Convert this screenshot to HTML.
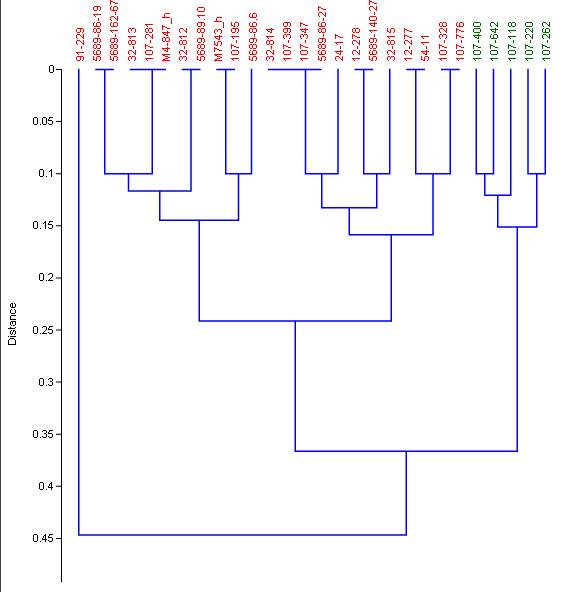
<!DOCTYPE html><html><head><meta charset="utf-8"><style>html,body{margin:0;padding:0;background:#fff;overflow:hidden;}svg{display:block;}</style></head><body>
<svg width="563" height="592" viewBox="0 0 563 592">
<rect x="0" y="0" width="563" height="592" fill="#fff"/>
<rect x="0" y="0" width="1" height="592" fill="#434339"/>
<path d="M61 69h1v513h-1zM50 65h3v1h-3zM49 66h1v1h-1zM53 66h1v1h-1zM49 67h1v1h-1zM53 67h1v1h-1zM49 68h1v1h-1zM53 68h1v1h-1zM49 69h1v1h-1zM53 69h1v1h-1zM49 70h1v1h-1zM53 70h1v1h-1zM49 71h1v1h-1zM53 71h1v1h-1zM50 72h3v1h-3zM34 117h3v1h-3zM43 117h3v1h-3zM49 117h4v1h-4zM33 118h1v1h-1zM37 118h1v1h-1zM42 118h1v1h-1zM46 118h1v1h-1zM49 118h1v1h-1zM33 119h1v1h-1zM37 119h1v1h-1zM42 119h1v1h-1zM46 119h1v1h-1zM48 119h1v1h-1zM33 120h1v1h-1zM37 120h1v1h-1zM42 120h1v1h-1zM46 120h1v1h-1zM48 120h4v1h-4zM33 121h1v1h-1zM37 121h1v1h-1zM42 121h1v1h-1zM46 121h1v1h-1zM52 121h1v1h-1zM33 122h1v1h-1zM37 122h1v1h-1zM42 122h1v1h-1zM46 122h1v1h-1zM52 122h1v1h-1zM33 123h1v1h-1zM37 123h1v1h-1zM42 123h1v1h-1zM46 123h1v1h-1zM48 123h1v1h-1zM52 123h1v1h-1zM34 124h3v1h-3zM40 124h1v1h-1zM43 124h3v1h-3zM49 124h3v1h-3zM40 169h3v1h-3zM51 169h1v1h-1zM39 170h1v1h-1zM43 170h1v1h-1zM50 170h2v1h-2zM39 171h1v1h-1zM43 171h1v1h-1zM49 171h1v1h-1zM51 171h1v1h-1zM39 172h1v1h-1zM43 172h1v1h-1zM51 172h1v1h-1zM39 173h1v1h-1zM43 173h1v1h-1zM51 173h1v1h-1zM39 174h1v1h-1zM43 174h1v1h-1zM51 174h1v1h-1zM39 175h1v1h-1zM43 175h1v1h-1zM51 175h1v1h-1zM40 176h3v1h-3zM46 176h1v1h-1zM51 176h1v1h-1zM34 221h3v1h-3zM45 221h1v1h-1zM49 221h4v1h-4zM33 222h1v1h-1zM37 222h1v1h-1zM44 222h2v1h-2zM49 222h1v1h-1zM33 223h1v1h-1zM37 223h1v1h-1zM43 223h1v1h-1zM45 223h1v1h-1zM48 223h1v1h-1zM33 224h1v1h-1zM37 224h1v1h-1zM45 224h1v1h-1zM48 224h4v1h-4zM33 225h1v1h-1zM37 225h1v1h-1zM45 225h1v1h-1zM52 225h1v1h-1zM33 226h1v1h-1zM37 226h1v1h-1zM45 226h1v1h-1zM52 226h1v1h-1zM33 227h1v1h-1zM37 227h1v1h-1zM45 227h1v1h-1zM48 227h1v1h-1zM52 227h1v1h-1zM34 228h3v1h-3zM40 228h1v1h-1zM45 228h1v1h-1zM49 228h3v1h-3zM40 273h3v1h-3zM49 273h3v1h-3zM39 274h1v1h-1zM43 274h1v1h-1zM48 274h1v1h-1zM52 274h1v1h-1zM39 275h1v1h-1zM43 275h1v1h-1zM52 275h1v1h-1zM39 276h1v1h-1zM43 276h1v1h-1zM52 276h1v1h-1zM39 277h1v1h-1zM43 277h1v1h-1zM51 277h1v1h-1zM39 278h1v1h-1zM43 278h1v1h-1zM50 278h1v1h-1zM39 279h1v1h-1zM43 279h1v1h-1zM49 279h1v1h-1zM40 280h3v1h-3zM46 280h1v1h-1zM48 280h5v1h-5zM11 303h2v1h-2zM14 303h1v1h-1zM10 304h1v1h-1zM12 304h1v1h-1zM15 304h1v1h-1zM10 305h1v1h-1zM12 305h1v1h-1zM15 305h1v1h-1zM10 306h1v1h-1zM12 306h1v1h-1zM15 306h1v1h-1zM11 307h4v1h-4zM11 309h1v1h-1zM14 309h1v1h-1zM10 310h1v1h-1zM15 310h1v1h-1zM10 311h1v1h-1zM15 311h1v1h-1zM10 312h1v1h-1zM15 312h1v1h-1zM11 313h4v1h-4zM11 315h5v1h-5zM10 316h1v1h-1zM10 317h1v1h-1zM10 318h1v1h-1zM10 319h6v1h-6zM11 321h5v1h-5zM10 322h1v1h-1zM12 322h1v1h-1zM15 322h1v1h-1zM10 323h1v1h-1zM12 323h1v1h-1zM15 323h1v1h-1zM10 324h1v1h-1zM15 324h1v1h-1zM11 325h1v1h-1zM13 325h2v1h-2zM34 326h3v1h-3zM43 326h3v1h-3zM49 326h4v1h-4zM10 327h1v1h-1zM15 327h1v1h-1zM33 327h1v1h-1zM37 327h1v1h-1zM42 327h1v1h-1zM46 327h1v1h-1zM49 327h1v1h-1zM8 328h7v1h-7zM33 328h1v1h-1zM37 328h1v1h-1zM46 328h1v1h-1zM48 328h1v1h-1zM33 329h1v1h-1zM37 329h1v1h-1zM46 329h1v1h-1zM48 329h4v1h-4zM11 330h1v1h-1zM13 330h2v1h-2zM33 330h1v1h-1zM37 330h1v1h-1zM45 330h1v1h-1zM52 330h1v1h-1zM10 331h1v1h-1zM13 331h1v1h-1zM15 331h1v1h-1zM33 331h1v1h-1zM37 331h1v1h-1zM44 331h1v1h-1zM52 331h1v1h-1zM10 332h1v1h-1zM12 332h1v1h-1zM15 332h1v1h-1zM33 332h1v1h-1zM37 332h1v1h-1zM43 332h1v1h-1zM48 332h1v1h-1zM52 332h1v1h-1zM10 333h1v1h-1zM12 333h1v1h-1zM15 333h1v1h-1zM34 333h3v1h-3zM40 333h1v1h-1zM42 333h5v1h-5zM49 333h3v1h-3zM11 334h1v1h-1zM14 334h1v1h-1zM8 336h1v1h-1zM10 336h6v1h-6zM10 338h4v1h-4zM9 339h1v1h-1zM14 339h1v1h-1zM8 340h1v1h-1zM15 340h1v1h-1zM8 341h1v1h-1zM15 341h1v1h-1zM8 342h1v1h-1zM15 342h1v1h-1zM8 343h1v1h-1zM15 343h1v1h-1zM8 344h8v1h-8zM40 378h3v1h-3zM49 378h3v1h-3zM39 379h1v1h-1zM43 379h1v1h-1zM48 379h1v1h-1zM52 379h1v1h-1zM39 380h1v1h-1zM43 380h1v1h-1zM52 380h1v1h-1zM39 381h1v1h-1zM43 381h1v1h-1zM50 381h2v1h-2zM39 382h1v1h-1zM43 382h1v1h-1zM52 382h1v1h-1zM39 383h1v1h-1zM43 383h1v1h-1zM52 383h1v1h-1zM39 384h1v1h-1zM43 384h1v1h-1zM48 384h1v1h-1zM52 384h1v1h-1zM40 385h3v1h-3zM46 385h1v1h-1zM49 385h3v1h-3zM34 430h3v1h-3zM43 430h3v1h-3zM49 430h4v1h-4zM33 431h1v1h-1zM37 431h1v1h-1zM42 431h1v1h-1zM46 431h1v1h-1zM49 431h1v1h-1zM33 432h1v1h-1zM37 432h1v1h-1zM46 432h1v1h-1zM48 432h1v1h-1zM33 433h1v1h-1zM37 433h1v1h-1zM44 433h2v1h-2zM48 433h4v1h-4zM33 434h1v1h-1zM37 434h1v1h-1zM46 434h1v1h-1zM52 434h1v1h-1zM33 435h1v1h-1zM37 435h1v1h-1zM46 435h1v1h-1zM52 435h1v1h-1zM33 436h1v1h-1zM37 436h1v1h-1zM42 436h1v1h-1zM46 436h1v1h-1zM48 436h1v1h-1zM52 436h1v1h-1zM34 437h3v1h-3zM40 437h1v1h-1zM43 437h3v1h-3zM49 437h3v1h-3zM40 482h3v1h-3zM51 482h1v1h-1zM39 483h1v1h-1zM43 483h1v1h-1zM50 483h2v1h-2zM39 484h1v1h-1zM43 484h1v1h-1zM49 484h1v1h-1zM51 484h1v1h-1zM39 485h1v1h-1zM43 485h1v1h-1zM49 485h1v1h-1zM51 485h1v1h-1zM39 486h1v1h-1zM43 486h1v1h-1zM48 486h1v1h-1zM51 486h1v1h-1zM39 487h1v1h-1zM43 487h1v1h-1zM48 487h5v1h-5zM39 488h1v1h-1zM43 488h1v1h-1zM51 488h1v1h-1zM40 489h3v1h-3zM46 489h1v1h-1zM51 489h1v1h-1zM34 534h3v1h-3zM45 534h1v1h-1zM49 534h4v1h-4zM33 535h1v1h-1zM37 535h1v1h-1zM44 535h2v1h-2zM49 535h1v1h-1zM33 536h1v1h-1zM37 536h1v1h-1zM43 536h1v1h-1zM45 536h1v1h-1zM48 536h1v1h-1zM33 537h1v1h-1zM37 537h1v1h-1zM43 537h1v1h-1zM45 537h1v1h-1zM48 537h4v1h-4zM33 538h1v1h-1zM37 538h1v1h-1zM42 538h1v1h-1zM45 538h1v1h-1zM52 538h1v1h-1zM33 539h1v1h-1zM37 539h1v1h-1zM42 539h5v1h-5zM52 539h1v1h-1zM33 540h1v1h-1zM37 540h1v1h-1zM45 540h1v1h-1zM48 540h1v1h-1zM52 540h1v1h-1zM34 541h3v1h-3zM40 541h1v1h-1zM45 541h1v1h-1zM49 541h3v1h-3z" fill="#000" shape-rendering="crispEdges"/>
<path d="M56 69.00h5v1h-5zM56 121.10h5v1h-5zM56 173.20h5v1h-5zM56 225.30h5v1h-5zM56 277.40h5v1h-5zM56 329.50h5v1h-5zM56 381.60h5v1h-5zM56 433.70h5v1h-5zM56 485.80h5v1h-5zM56 537.90h5v1h-5z" fill="#000"/>
<path d="M96.00 69.50V69.50H113.25V69.50M130.50 69.50V69.50H147.75V69.50M139.25 69.50V69.50H165.25V69.50M104.75 69.50V173.75H152.25V69.50M182.50 69.50V69.50H199.75V69.50M128.50 173.75V191.00H191.00V69.50M217.00 69.50V69.50H234.25V69.50M225.75 69.50V173.75H251.50V69.50M159.75 191.00V220.25H238.50V173.75M268.75 69.50V69.50H286.00V69.50M277.50 69.50V69.50H303.50V69.50M290.50 69.50V69.50H320.75V69.50M305.50 69.50V173.75H338.00V69.50M355.25 69.50V69.50H372.50V69.50M363.75 69.50V173.75H389.75V69.50M321.75 173.75V207.75H376.75V173.75M407.00 69.50V69.50H424.25V69.50M441.75 69.50V69.50H459.00V69.50M415.75 69.50V173.75H450.25V69.50M349.25 207.75V234.75H433.00V173.75M199.25 220.25V321.00H391.25V234.75M476.25 69.50V173.75H493.50V69.50M484.75 173.75V195.25H510.75V69.50M528.00 69.50V173.75H545.25V69.50M497.75 195.25V227.00H536.75V173.75M295.25 321.00V451.25H517.25V227.00M78.75 69.50V535.00H406.25V451.25" stroke="#0000ff" stroke-width="1.5" fill="none" stroke-linecap="square" stroke-linejoin="miter"/>
<path d="M110 0h1v1h-1zM369 0h1v1h-1zM110 1h3v1h-3zM369 1h3v1h-3zM110 2h1v1h-1zM113 2h2v1h-2zM369 2h1v1h-1zM372 2h2v1h-2zM110 3h1v1h-1zM115 3h3v1h-3zM369 3h1v1h-1zM374 3h3v1h-3zM110 4h1v1h-1zM369 4h1v1h-1zM94 6h6v1h-6zM111 6h1v1h-1zM114 6h3v1h-3zM318 6h1v1h-1zM370 6h3v1h-3zM376 6h1v1h-1zM93 7h1v1h-1zM97 7h1v1h-1zM100 7h1v1h-1zM110 7h1v1h-1zM113 7h1v1h-1zM117 7h1v1h-1zM198 7h6v1h-6zM318 7h3v1h-3zM369 7h1v1h-1zM373 7h1v1h-1zM376 7h1v1h-1zM93 8h1v1h-1zM97 8h1v1h-1zM100 8h1v1h-1zM110 8h1v1h-1zM113 8h1v1h-1zM117 8h1v1h-1zM197 8h1v1h-1zM204 8h1v1h-1zM318 8h1v1h-1zM321 8h2v1h-2zM369 8h1v1h-1zM374 8h1v1h-1zM376 8h1v1h-1zM93 9h1v1h-1zM97 9h1v1h-1zM100 9h1v1h-1zM110 9h1v1h-1zM113 9h1v1h-1zM117 9h1v1h-1zM197 9h1v1h-1zM204 9h1v1h-1zM318 9h1v1h-1zM323 9h3v1h-3zM369 9h1v1h-1zM375 9h2v1h-2zM94 10h3v1h-3zM99 10h1v1h-1zM111 10h6v1h-6zM197 10h1v1h-1zM204 10h1v1h-1zM318 10h1v1h-1zM370 10h1v1h-1zM376 10h1v1h-1zM198 11h6v1h-6zM115 12h1v1h-1zM319 12h3v1h-3zM325 12h1v1h-1zM374 12h1v1h-1zM115 13h1v1h-1zM165 13h5v1h-5zM250 13h1v1h-1zM253 13h3v1h-3zM318 13h1v1h-1zM322 13h1v1h-1zM325 13h1v1h-1zM374 13h1v1h-1zM93 14h8v1h-8zM115 14h1v1h-1zM164 14h1v1h-1zM249 14h1v1h-1zM252 14h1v1h-1zM256 14h1v1h-1zM318 14h1v1h-1zM323 14h1v1h-1zM325 14h1v1h-1zM374 14h1v1h-1zM94 15h1v1h-1zM164 15h1v1h-1zM197 15h8v1h-8zM249 15h1v1h-1zM252 15h1v1h-1zM256 15h1v1h-1zM318 15h1v1h-1zM324 15h2v1h-2zM95 16h1v1h-1zM111 16h3v1h-3zM117 16h1v1h-1zM164 16h1v1h-1zM198 16h1v1h-1zM249 16h1v1h-1zM252 16h1v1h-1zM256 16h1v1h-1zM319 16h1v1h-1zM325 16h1v1h-1zM370 16h6v1h-6zM110 17h1v1h-1zM114 17h1v1h-1zM117 17h1v1h-1zM162 17h8v1h-8zM199 17h1v1h-1zM217 17h5v1h-5zM250 17h6v1h-6zM369 17h1v1h-1zM376 17h1v1h-1zM98 18h1v1h-1zM110 18h1v1h-1zM115 18h1v1h-1zM117 18h1v1h-1zM171 18h1v1h-1zM216 18h1v1h-1zM323 18h1v1h-1zM369 18h1v1h-1zM376 18h1v1h-1zM98 19h1v1h-1zM110 19h1v1h-1zM116 19h2v1h-2zM171 19h1v1h-1zM204 19h1v1h-1zM216 19h1v1h-1zM256 19h1v1h-1zM323 19h1v1h-1zM369 19h1v1h-1zM376 19h1v1h-1zM98 20h1v1h-1zM111 20h1v1h-1zM117 20h1v1h-1zM171 20h1v1h-1zM216 20h1v1h-1zM323 20h1v1h-1zM370 20h6v1h-6zM171 21h1v1h-1zM214 21h8v1h-8zM94 22h1v1h-1zM97 22h3v1h-3zM111 22h1v1h-1zM114 22h3v1h-3zM171 22h1v1h-1zM198 22h6v1h-6zM223 22h1v1h-1zM231 22h1v1h-1zM235 22h3v1h-3zM250 22h1v1h-1zM253 22h3v1h-3zM284 22h6v1h-6zM300 22h1v1h-1zM319 22h1v1h-1zM322 22h3v1h-3zM374 22h1v1h-1zM440 22h2v1h-2zM443 22h3v1h-3zM457 22h1v1h-1zM460 22h3v1h-3zM93 23h1v1h-1zM96 23h1v1h-1zM100 23h1v1h-1zM110 23h1v1h-1zM113 23h1v1h-1zM117 23h1v1h-1zM171 23h1v1h-1zM197 23h1v1h-1zM201 23h1v1h-1zM204 23h1v1h-1zM223 23h1v1h-1zM231 23h1v1h-1zM234 23h1v1h-1zM238 23h1v1h-1zM249 23h1v1h-1zM252 23h1v1h-1zM256 23h1v1h-1zM283 23h1v1h-1zM287 23h1v1h-1zM290 23h1v1h-1zM300 23h3v1h-3zM318 23h1v1h-1zM321 23h1v1h-1zM325 23h1v1h-1zM369 23h8v1h-8zM439 23h1v1h-1zM442 23h1v1h-1zM446 23h1v1h-1zM456 23h1v1h-1zM459 23h1v1h-1zM463 23h1v1h-1zM93 24h1v1h-1zM96 24h1v1h-1zM100 24h1v1h-1zM110 24h1v1h-1zM113 24h1v1h-1zM117 24h1v1h-1zM145 24h8v1h-8zM197 24h1v1h-1zM201 24h1v1h-1zM204 24h1v1h-1zM223 24h1v1h-1zM231 24h1v1h-1zM234 24h1v1h-1zM238 24h1v1h-1zM249 24h1v1h-1zM252 24h1v1h-1zM256 24h1v1h-1zM283 24h1v1h-1zM287 24h1v1h-1zM290 24h1v1h-1zM300 24h1v1h-1zM303 24h2v1h-2zM318 24h1v1h-1zM321 24h1v1h-1zM325 24h1v1h-1zM370 24h1v1h-1zM374 24h1v1h-1zM439 24h1v1h-1zM442 24h1v1h-1zM446 24h1v1h-1zM456 24h1v1h-1zM459 24h1v1h-1zM463 24h1v1h-1zM93 25h1v1h-1zM96 25h1v1h-1zM100 25h1v1h-1zM110 25h1v1h-1zM113 25h1v1h-1zM117 25h1v1h-1zM146 25h1v1h-1zM162 25h1v1h-1zM197 25h1v1h-1zM201 25h1v1h-1zM204 25h1v1h-1zM223 25h1v1h-1zM231 25h2v1h-2zM234 25h1v1h-1zM238 25h1v1h-1zM249 25h1v1h-1zM252 25h1v1h-1zM256 25h1v1h-1zM283 25h1v1h-1zM287 25h1v1h-1zM290 25h1v1h-1zM300 25h1v1h-1zM305 25h3v1h-3zM318 25h1v1h-1zM321 25h1v1h-1zM325 25h1v1h-1zM371 25h2v1h-2zM374 25h1v1h-1zM439 25h1v1h-1zM442 25h1v1h-1zM446 25h1v1h-1zM456 25h1v1h-1zM459 25h1v1h-1zM463 25h1v1h-1zM94 26h6v1h-6zM111 26h6v1h-6zM147 26h1v1h-1zM162 26h3v1h-3zM198 26h3v1h-3zM203 26h1v1h-1zM223 26h1v1h-1zM233 26h2v1h-2zM237 26h1v1h-1zM250 26h6v1h-6zM284 26h3v1h-3zM289 26h1v1h-1zM300 26h1v1h-1zM319 26h6v1h-6zM373 26h2v1h-2zM440 26h2v1h-2zM443 26h3v1h-3zM457 26h6v1h-6zM162 27h1v1h-1zM165 27h2v1h-2zM223 27h1v1h-1zM77 28h6v1h-6zM94 28h2v1h-2zM97 28h3v1h-3zM129 28h2v1h-2zM132 28h3v1h-3zM146 28h2v1h-2zM149 28h3v1h-3zM162 28h1v1h-1zM167 28h3v1h-3zM180 28h3v1h-3zM186 28h1v1h-1zM198 28h2v1h-2zM201 28h3v1h-3zM232 28h6v1h-6zM250 28h2v1h-2zM253 28h3v1h-3zM271 28h1v1h-1zM284 28h6v1h-6zM305 28h1v1h-1zM319 28h2v1h-2zM322 28h3v1h-3zM353 28h2v1h-2zM356 28h3v1h-3zM387 28h1v1h-1zM391 28h3v1h-3zM404 28h1v1h-1zM440 28h3v1h-3zM446 28h1v1h-1zM456 28h1v1h-1zM76 29h1v1h-1zM80 29h1v1h-1zM83 29h1v1h-1zM93 29h1v1h-1zM96 29h1v1h-1zM100 29h1v1h-1zM128 29h1v1h-1zM131 29h1v1h-1zM135 29h1v1h-1zM145 29h1v1h-1zM148 29h1v1h-1zM152 29h1v1h-1zM162 29h1v1h-1zM179 29h1v1h-1zM183 29h1v1h-1zM186 29h1v1h-1zM197 29h1v1h-1zM200 29h1v1h-1zM204 29h1v1h-1zM215 29h2v1h-2zM218 29h3v1h-3zM231 29h1v1h-1zM235 29h1v1h-1zM238 29h1v1h-1zM249 29h1v1h-1zM252 29h1v1h-1zM256 29h1v1h-1zM266 29h8v1h-8zM283 29h1v1h-1zM287 29h1v1h-1zM290 29h1v1h-1zM300 29h8v1h-8zM318 29h1v1h-1zM321 29h1v1h-1zM325 29h1v1h-1zM352 29h1v1h-1zM355 29h1v1h-1zM359 29h1v1h-1zM387 29h1v1h-1zM390 29h1v1h-1zM394 29h1v1h-1zM404 29h3v1h-3zM439 29h1v1h-1zM443 29h1v1h-1zM446 29h1v1h-1zM456 29h3v1h-3zM76 30h1v1h-1zM80 30h1v1h-1zM83 30h1v1h-1zM93 30h1v1h-1zM96 30h1v1h-1zM100 30h1v1h-1zM110 30h8v1h-8zM128 30h1v1h-1zM131 30h1v1h-1zM135 30h1v1h-1zM145 30h1v1h-1zM148 30h1v1h-1zM152 30h1v1h-1zM179 30h1v1h-1zM184 30h1v1h-1zM186 30h1v1h-1zM197 30h1v1h-1zM200 30h1v1h-1zM204 30h1v1h-1zM214 30h1v1h-1zM217 30h1v1h-1zM221 30h1v1h-1zM231 30h1v1h-1zM235 30h1v1h-1zM238 30h1v1h-1zM249 30h1v1h-1zM252 30h1v1h-1zM256 30h1v1h-1zM267 30h1v1h-1zM271 30h1v1h-1zM283 30h1v1h-1zM287 30h1v1h-1zM290 30h1v1h-1zM301 30h1v1h-1zM305 30h1v1h-1zM318 30h1v1h-1zM321 30h1v1h-1zM325 30h1v1h-1zM352 30h1v1h-1zM355 30h1v1h-1zM359 30h1v1h-1zM369 30h8v1h-8zM387 30h1v1h-1zM390 30h1v1h-1zM394 30h1v1h-1zM404 30h1v1h-1zM407 30h2v1h-2zM439 30h1v1h-1zM444 30h1v1h-1zM446 30h1v1h-1zM456 30h1v1h-1zM459 30h2v1h-2zM76 31h1v1h-1zM80 31h1v1h-1zM83 31h1v1h-1zM93 31h1v1h-1zM96 31h1v1h-1zM100 31h1v1h-1zM111 31h1v1h-1zM128 31h1v1h-1zM135 31h1v1h-1zM145 31h1v1h-1zM148 31h1v1h-1zM152 31h1v1h-1zM167 31h1v1h-1zM179 31h1v1h-1zM185 31h2v1h-2zM197 31h1v1h-1zM200 31h1v1h-1zM204 31h1v1h-1zM214 31h1v1h-1zM217 31h1v1h-1zM221 31h1v1h-1zM231 31h1v1h-1zM235 31h1v1h-1zM238 31h1v1h-1zM249 31h1v1h-1zM252 31h1v1h-1zM256 31h1v1h-1zM268 31h2v1h-2zM271 31h1v1h-1zM283 31h1v1h-1zM287 31h1v1h-1zM290 31h1v1h-1zM302 31h2v1h-2zM305 31h1v1h-1zM318 31h1v1h-1zM321 31h1v1h-1zM325 31h1v1h-1zM352 31h1v1h-1zM355 31h1v1h-1zM359 31h1v1h-1zM370 31h1v1h-1zM387 31h2v1h-2zM390 31h1v1h-1zM394 31h1v1h-1zM404 31h1v1h-1zM409 31h3v1h-3zM439 31h1v1h-1zM445 31h2v1h-2zM456 31h1v1h-1zM461 31h3v1h-3zM77 32h3v1h-3zM82 32h1v1h-1zM94 32h2v1h-2zM97 32h3v1h-3zM112 32h1v1h-1zM129 32h1v1h-1zM134 32h1v1h-1zM146 32h2v1h-2zM149 32h3v1h-3zM162 32h8v1h-8zM180 32h1v1h-1zM186 32h1v1h-1zM198 32h2v1h-2zM201 32h3v1h-3zM214 32h1v1h-1zM221 32h1v1h-1zM232 32h3v1h-3zM237 32h1v1h-1zM250 32h2v1h-2zM253 32h3v1h-3zM270 32h2v1h-2zM284 32h3v1h-3zM289 32h1v1h-1zM304 32h2v1h-2zM319 32h2v1h-2zM322 32h3v1h-3zM353 32h2v1h-2zM356 32h3v1h-3zM371 32h1v1h-1zM389 32h2v1h-2zM393 32h1v1h-1zM404 32h1v1h-1zM440 32h1v1h-1zM446 32h1v1h-1zM456 32h1v1h-1zM163 33h1v1h-1zM167 33h1v1h-1zM215 33h1v1h-1zM220 33h1v1h-1zM77 34h3v1h-3zM83 34h1v1h-1zM98 34h1v1h-1zM115 34h1v1h-1zM146 34h3v1h-3zM152 34h1v1h-1zM164 34h2v1h-2zM167 34h1v1h-1zM202 34h1v1h-1zM254 34h1v1h-1zM284 34h2v1h-2zM287 34h3v1h-3zM301 34h2v1h-2zM304 34h3v1h-3zM323 34h1v1h-1zM335 34h1v1h-1zM352 34h1v1h-1zM374 34h1v1h-1zM404 34h1v1h-1zM440 34h2v1h-2zM443 34h3v1h-3zM456 34h1v1h-1zM76 35h1v1h-1zM80 35h1v1h-1zM83 35h1v1h-1zM98 35h1v1h-1zM115 35h1v1h-1zM145 35h1v1h-1zM149 35h1v1h-1zM152 35h1v1h-1zM166 35h2v1h-2zM202 35h1v1h-1zM219 35h1v1h-1zM254 35h1v1h-1zM283 35h1v1h-1zM286 35h1v1h-1zM290 35h1v1h-1zM300 35h1v1h-1zM303 35h1v1h-1zM307 35h1v1h-1zM323 35h1v1h-1zM335 35h3v1h-3zM352 35h3v1h-3zM374 35h1v1h-1zM404 35h3v1h-3zM439 35h1v1h-1zM442 35h1v1h-1zM446 35h1v1h-1zM456 35h3v1h-3zM76 36h1v1h-1zM81 36h1v1h-1zM83 36h1v1h-1zM98 36h1v1h-1zM115 36h1v1h-1zM128 36h8v1h-8zM145 36h1v1h-1zM150 36h1v1h-1zM152 36h1v1h-1zM179 36h8v1h-8zM202 36h1v1h-1zM214 36h8v1h-8zM231 36h8v1h-8zM254 36h1v1h-1zM266 36h8v1h-8zM283 36h1v1h-1zM286 36h1v1h-1zM290 36h1v1h-1zM300 36h1v1h-1zM303 36h1v1h-1zM307 36h1v1h-1zM323 36h1v1h-1zM335 36h1v1h-1zM338 36h2v1h-2zM352 36h1v1h-1zM355 36h2v1h-2zM374 36h1v1h-1zM387 36h8v1h-8zM404 36h1v1h-1zM407 36h2v1h-2zM421 36h8v1h-8zM439 36h1v1h-1zM442 36h1v1h-1zM446 36h1v1h-1zM456 36h1v1h-1zM459 36h2v1h-2zM76 37h1v1h-1zM82 37h2v1h-2zM129 37h1v1h-1zM145 37h1v1h-1zM151 37h2v1h-2zM163 37h2v1h-2zM166 37h3v1h-3zM180 37h1v1h-1zM215 37h1v1h-1zM219 37h1v1h-1zM232 37h1v1h-1zM267 37h1v1h-1zM283 37h1v1h-1zM290 37h1v1h-1zM300 37h1v1h-1zM307 37h1v1h-1zM335 37h1v1h-1zM340 37h3v1h-3zM352 37h1v1h-1zM357 37h3v1h-3zM388 37h1v1h-1zM404 37h1v1h-1zM409 37h3v1h-3zM422 37h1v1h-1zM439 37h1v1h-1zM446 37h1v1h-1zM456 37h1v1h-1zM461 37h3v1h-3zM77 38h1v1h-1zM83 38h1v1h-1zM94 38h6v1h-6zM111 38h6v1h-6zM130 38h1v1h-1zM146 38h1v1h-1zM152 38h1v1h-1zM162 38h1v1h-1zM165 38h1v1h-1zM169 38h1v1h-1zM181 38h1v1h-1zM198 38h6v1h-6zM216 38h2v1h-2zM219 38h1v1h-1zM233 38h1v1h-1zM250 38h6v1h-6zM268 38h1v1h-1zM284 38h1v1h-1zM289 38h1v1h-1zM301 38h1v1h-1zM306 38h1v1h-1zM319 38h6v1h-6zM335 38h1v1h-1zM352 38h1v1h-1zM370 38h6v1h-6zM389 38h1v1h-1zM404 38h1v1h-1zM423 38h1v1h-1zM440 38h1v1h-1zM445 38h1v1h-1zM456 38h1v1h-1zM93 39h1v1h-1zM97 39h1v1h-1zM100 39h1v1h-1zM110 39h1v1h-1zM114 39h1v1h-1zM117 39h1v1h-1zM162 39h1v1h-1zM165 39h1v1h-1zM169 39h1v1h-1zM197 39h1v1h-1zM201 39h1v1h-1zM204 39h1v1h-1zM218 39h2v1h-2zM249 39h1v1h-1zM253 39h1v1h-1zM256 39h1v1h-1zM318 39h1v1h-1zM322 39h1v1h-1zM325 39h1v1h-1zM369 39h1v1h-1zM373 39h1v1h-1zM376 39h1v1h-1zM77 40h3v1h-3zM83 40h1v1h-1zM93 40h1v1h-1zM97 40h1v1h-1zM100 40h1v1h-1zM110 40h1v1h-1zM114 40h1v1h-1zM117 40h1v1h-1zM129 40h2v1h-2zM132 40h3v1h-3zM150 40h1v1h-1zM162 40h1v1h-1zM165 40h1v1h-1zM169 40h1v1h-1zM180 40h2v1h-2zM183 40h3v1h-3zM197 40h1v1h-1zM201 40h1v1h-1zM204 40h1v1h-1zM236 40h1v1h-1zM249 40h1v1h-1zM253 40h1v1h-1zM256 40h1v1h-1zM267 40h2v1h-2zM270 40h3v1h-3zM288 40h1v1h-1zM305 40h1v1h-1zM318 40h1v1h-1zM322 40h1v1h-1zM325 40h1v1h-1zM353 40h3v1h-3zM359 40h1v1h-1zM369 40h1v1h-1zM373 40h1v1h-1zM376 40h1v1h-1zM388 40h2v1h-2zM391 40h3v1h-3zM405 40h3v1h-3zM411 40h1v1h-1zM444 40h1v1h-1zM461 40h1v1h-1zM76 41h1v1h-1zM80 41h1v1h-1zM83 41h1v1h-1zM93 41h1v1h-1zM97 41h1v1h-1zM100 41h1v1h-1zM110 41h1v1h-1zM114 41h1v1h-1zM117 41h1v1h-1zM128 41h1v1h-1zM131 41h1v1h-1zM135 41h1v1h-1zM150 41h1v1h-1zM163 41h2v1h-2zM166 41h3v1h-3zM179 41h1v1h-1zM182 41h1v1h-1zM186 41h1v1h-1zM197 41h1v1h-1zM201 41h1v1h-1zM204 41h1v1h-1zM214 41h1v1h-1zM218 41h3v1h-3zM236 41h1v1h-1zM249 41h1v1h-1zM253 41h1v1h-1zM256 41h1v1h-1zM266 41h1v1h-1zM269 41h1v1h-1zM273 41h1v1h-1zM288 41h1v1h-1zM305 41h1v1h-1zM318 41h1v1h-1zM322 41h1v1h-1zM325 41h1v1h-1zM352 41h1v1h-1zM356 41h1v1h-1zM359 41h1v1h-1zM369 41h1v1h-1zM373 41h1v1h-1zM376 41h1v1h-1zM387 41h1v1h-1zM390 41h1v1h-1zM394 41h1v1h-1zM404 41h1v1h-1zM408 41h1v1h-1zM411 41h1v1h-1zM444 41h1v1h-1zM461 41h1v1h-1zM76 42h1v1h-1zM81 42h1v1h-1zM83 42h1v1h-1zM94 42h3v1h-3zM99 42h1v1h-1zM111 42h3v1h-3zM116 42h1v1h-1zM128 42h1v1h-1zM131 42h1v1h-1zM135 42h1v1h-1zM150 42h1v1h-1zM179 42h1v1h-1zM182 42h1v1h-1zM186 42h1v1h-1zM198 42h3v1h-3zM203 42h1v1h-1zM214 42h1v1h-1zM217 42h1v1h-1zM221 42h1v1h-1zM236 42h1v1h-1zM250 42h3v1h-3zM255 42h1v1h-1zM266 42h1v1h-1zM269 42h1v1h-1zM273 42h1v1h-1zM288 42h1v1h-1zM305 42h1v1h-1zM319 42h3v1h-3zM324 42h1v1h-1zM335 42h8v1h-8zM352 42h1v1h-1zM357 42h1v1h-1zM359 42h1v1h-1zM370 42h3v1h-3zM375 42h1v1h-1zM387 42h1v1h-1zM390 42h1v1h-1zM394 42h1v1h-1zM404 42h1v1h-1zM409 42h1v1h-1zM411 42h1v1h-1zM421 42h8v1h-8zM444 42h1v1h-1zM461 42h1v1h-1zM76 43h1v1h-1zM82 43h2v1h-2zM128 43h1v1h-1zM131 43h1v1h-1zM135 43h1v1h-1zM167 43h1v1h-1zM179 43h1v1h-1zM182 43h1v1h-1zM186 43h1v1h-1zM214 43h1v1h-1zM217 43h1v1h-1zM221 43h1v1h-1zM266 43h1v1h-1zM269 43h1v1h-1zM273 43h1v1h-1zM336 43h1v1h-1zM352 43h1v1h-1zM358 43h2v1h-2zM387 43h1v1h-1zM390 43h1v1h-1zM394 43h1v1h-1zM404 43h1v1h-1zM410 43h2v1h-2zM422 43h1v1h-1zM77 44h1v1h-1zM83 44h1v1h-1zM94 44h2v1h-2zM97 44h3v1h-3zM111 44h2v1h-2zM114 44h3v1h-3zM129 44h2v1h-2zM132 44h3v1h-3zM145 44h1v1h-1zM167 44h1v1h-1zM180 44h2v1h-2zM183 44h3v1h-3zM198 44h2v1h-2zM201 44h3v1h-3zM214 44h2v1h-2zM217 44h1v1h-1zM221 44h1v1h-1zM231 44h1v1h-1zM250 44h2v1h-2zM253 44h3v1h-3zM267 44h2v1h-2zM270 44h3v1h-3zM283 44h1v1h-1zM300 44h1v1h-1zM319 44h2v1h-2zM322 44h3v1h-3zM337 44h1v1h-1zM353 44h1v1h-1zM359 44h1v1h-1zM370 44h2v1h-2zM373 44h3v1h-3zM388 44h2v1h-2zM391 44h3v1h-3zM405 44h1v1h-1zM411 44h1v1h-1zM423 44h1v1h-1zM439 44h1v1h-1zM456 44h1v1h-1zM93 45h1v1h-1zM96 45h1v1h-1zM100 45h1v1h-1zM110 45h1v1h-1zM113 45h1v1h-1zM117 45h1v1h-1zM145 45h3v1h-3zM167 45h1v1h-1zM197 45h1v1h-1zM200 45h1v1h-1zM204 45h1v1h-1zM216 45h2v1h-2zM220 45h1v1h-1zM231 45h3v1h-3zM249 45h1v1h-1zM252 45h1v1h-1zM256 45h1v1h-1zM283 45h3v1h-3zM300 45h3v1h-3zM318 45h1v1h-1zM321 45h1v1h-1zM325 45h1v1h-1zM369 45h1v1h-1zM372 45h1v1h-1zM376 45h1v1h-1zM439 45h3v1h-3zM456 45h3v1h-3zM81 46h1v1h-1zM93 46h1v1h-1zM96 46h1v1h-1zM100 46h1v1h-1zM110 46h1v1h-1zM113 46h1v1h-1zM117 46h1v1h-1zM133 46h1v1h-1zM145 46h1v1h-1zM148 46h2v1h-2zM184 46h1v1h-1zM197 46h1v1h-1zM200 46h1v1h-1zM204 46h1v1h-1zM231 46h1v1h-1zM234 46h2v1h-2zM249 46h1v1h-1zM252 46h1v1h-1zM256 46h1v1h-1zM271 46h1v1h-1zM283 46h1v1h-1zM286 46h2v1h-2zM300 46h1v1h-1zM303 46h2v1h-2zM318 46h1v1h-1zM321 46h1v1h-1zM325 46h1v1h-1zM340 46h1v1h-1zM357 46h1v1h-1zM369 46h1v1h-1zM372 46h1v1h-1zM376 46h1v1h-1zM392 46h1v1h-1zM409 46h1v1h-1zM426 46h1v1h-1zM439 46h1v1h-1zM442 46h2v1h-2zM456 46h1v1h-1zM459 46h2v1h-2zM81 47h1v1h-1zM93 47h1v1h-1zM96 47h1v1h-1zM100 47h1v1h-1zM110 47h1v1h-1zM113 47h1v1h-1zM117 47h1v1h-1zM133 47h1v1h-1zM145 47h1v1h-1zM150 47h3v1h-3zM167 47h1v1h-1zM184 47h1v1h-1zM197 47h1v1h-1zM200 47h1v1h-1zM204 47h1v1h-1zM214 47h1v1h-1zM231 47h1v1h-1zM236 47h3v1h-3zM249 47h1v1h-1zM252 47h1v1h-1zM256 47h1v1h-1zM271 47h1v1h-1zM283 47h1v1h-1zM288 47h3v1h-3zM300 47h1v1h-1zM305 47h3v1h-3zM318 47h1v1h-1zM321 47h1v1h-1zM325 47h1v1h-1zM340 47h1v1h-1zM357 47h1v1h-1zM369 47h1v1h-1zM372 47h1v1h-1zM376 47h1v1h-1zM392 47h1v1h-1zM409 47h1v1h-1zM426 47h1v1h-1zM439 47h1v1h-1zM444 47h3v1h-3zM456 47h1v1h-1zM461 47h3v1h-3zM81 48h1v1h-1zM94 48h2v1h-2zM97 48h3v1h-3zM111 48h2v1h-2zM114 48h3v1h-3zM133 48h1v1h-1zM145 48h1v1h-1zM162 48h8v1h-8zM184 48h1v1h-1zM198 48h2v1h-2zM201 48h3v1h-3zM214 48h3v1h-3zM231 48h1v1h-1zM250 48h2v1h-2zM253 48h3v1h-3zM271 48h1v1h-1zM283 48h1v1h-1zM300 48h1v1h-1zM319 48h2v1h-2zM322 48h3v1h-3zM340 48h1v1h-1zM357 48h1v1h-1zM370 48h2v1h-2zM373 48h3v1h-3zM392 48h1v1h-1zM409 48h1v1h-1zM426 48h1v1h-1zM439 48h1v1h-1zM456 48h1v1h-1zM163 49h1v1h-1zM167 49h1v1h-1zM214 49h1v1h-1zM217 49h2v1h-2zM94 50h1v1h-1zM97 50h3v1h-3zM111 50h1v1h-1zM114 50h3v1h-3zM129 50h3v1h-3zM135 50h1v1h-1zM146 50h6v1h-6zM164 50h2v1h-2zM167 50h1v1h-1zM180 50h3v1h-3zM186 50h1v1h-1zM198 50h1v1h-1zM201 50h3v1h-3zM214 50h1v1h-1zM219 50h3v1h-3zM232 50h6v1h-6zM250 50h1v1h-1zM253 50h3v1h-3zM267 50h3v1h-3zM273 50h1v1h-1zM284 50h6v1h-6zM301 50h6v1h-6zM319 50h1v1h-1zM322 50h3v1h-3zM340 50h1v1h-1zM353 50h3v1h-3zM359 50h1v1h-1zM370 50h1v1h-1zM373 50h3v1h-3zM388 50h3v1h-3zM394 50h1v1h-1zM405 50h3v1h-3zM411 50h1v1h-1zM426 50h1v1h-1zM440 50h6v1h-6zM457 50h6v1h-6zM93 51h1v1h-1zM96 51h1v1h-1zM100 51h1v1h-1zM110 51h1v1h-1zM113 51h1v1h-1zM117 51h1v1h-1zM128 51h1v1h-1zM132 51h1v1h-1zM135 51h1v1h-1zM145 51h1v1h-1zM152 51h1v1h-1zM166 51h2v1h-2zM179 51h1v1h-1zM183 51h1v1h-1zM186 51h1v1h-1zM197 51h1v1h-1zM200 51h1v1h-1zM204 51h1v1h-1zM214 51h1v1h-1zM231 51h1v1h-1zM238 51h1v1h-1zM249 51h1v1h-1zM252 51h1v1h-1zM256 51h1v1h-1zM266 51h1v1h-1zM270 51h1v1h-1zM273 51h1v1h-1zM283 51h1v1h-1zM290 51h1v1h-1zM300 51h1v1h-1zM307 51h1v1h-1zM318 51h1v1h-1zM321 51h1v1h-1zM325 51h1v1h-1zM335 51h8v1h-8zM352 51h1v1h-1zM356 51h1v1h-1zM359 51h1v1h-1zM369 51h1v1h-1zM372 51h1v1h-1zM376 51h1v1h-1zM387 51h1v1h-1zM391 51h1v1h-1zM394 51h1v1h-1zM404 51h1v1h-1zM408 51h1v1h-1zM411 51h1v1h-1zM421 51h8v1h-8zM439 51h1v1h-1zM446 51h1v1h-1zM456 51h1v1h-1zM463 51h1v1h-1zM76 52h8v1h-8zM93 52h1v1h-1zM96 52h1v1h-1zM100 52h1v1h-1zM110 52h1v1h-1zM113 52h1v1h-1zM117 52h1v1h-1zM128 52h1v1h-1zM133 52h1v1h-1zM135 52h1v1h-1zM145 52h1v1h-1zM152 52h1v1h-1zM179 52h1v1h-1zM184 52h1v1h-1zM186 52h1v1h-1zM197 52h1v1h-1zM200 52h1v1h-1zM204 52h1v1h-1zM231 52h1v1h-1zM238 52h1v1h-1zM249 52h1v1h-1zM252 52h1v1h-1zM256 52h1v1h-1zM266 52h1v1h-1zM271 52h1v1h-1zM273 52h1v1h-1zM283 52h1v1h-1zM290 52h1v1h-1zM300 52h1v1h-1zM307 52h1v1h-1zM318 52h1v1h-1zM321 52h1v1h-1zM325 52h1v1h-1zM336 52h1v1h-1zM340 52h1v1h-1zM352 52h1v1h-1zM357 52h1v1h-1zM359 52h1v1h-1zM369 52h1v1h-1zM372 52h1v1h-1zM376 52h1v1h-1zM387 52h1v1h-1zM392 52h1v1h-1zM394 52h1v1h-1zM404 52h1v1h-1zM409 52h1v1h-1zM411 52h1v1h-1zM422 52h1v1h-1zM426 52h1v1h-1zM439 52h1v1h-1zM446 52h1v1h-1zM456 52h1v1h-1zM463 52h1v1h-1zM77 53h1v1h-1zM93 53h1v1h-1zM96 53h1v1h-1zM100 53h1v1h-1zM110 53h1v1h-1zM113 53h1v1h-1zM117 53h1v1h-1zM128 53h1v1h-1zM134 53h2v1h-2zM145 53h1v1h-1zM152 53h1v1h-1zM179 53h1v1h-1zM185 53h2v1h-2zM197 53h1v1h-1zM200 53h1v1h-1zM204 53h1v1h-1zM231 53h1v1h-1zM238 53h1v1h-1zM249 53h1v1h-1zM252 53h1v1h-1zM256 53h1v1h-1zM266 53h1v1h-1zM272 53h2v1h-2zM283 53h1v1h-1zM290 53h1v1h-1zM300 53h1v1h-1zM307 53h1v1h-1zM318 53h1v1h-1zM321 53h1v1h-1zM325 53h1v1h-1zM337 53h2v1h-2zM340 53h1v1h-1zM352 53h1v1h-1zM358 53h2v1h-2zM369 53h1v1h-1zM372 53h1v1h-1zM376 53h1v1h-1zM387 53h1v1h-1zM393 53h2v1h-2zM404 53h1v1h-1zM410 53h2v1h-2zM423 53h2v1h-2zM426 53h1v1h-1zM439 53h1v1h-1zM446 53h1v1h-1zM456 53h1v1h-1zM463 53h1v1h-1zM78 54h1v1h-1zM94 54h6v1h-6zM111 54h6v1h-6zM129 54h1v1h-1zM135 54h1v1h-1zM146 54h6v1h-6zM162 54h8v1h-8zM180 54h1v1h-1zM186 54h1v1h-1zM198 54h6v1h-6zM214 54h8v1h-8zM232 54h6v1h-6zM250 54h6v1h-6zM267 54h1v1h-1zM273 54h1v1h-1zM284 54h6v1h-6zM301 54h6v1h-6zM319 54h6v1h-6zM339 54h2v1h-2zM353 54h1v1h-1zM359 54h1v1h-1zM370 54h6v1h-6zM388 54h1v1h-1zM394 54h1v1h-1zM405 54h1v1h-1zM411 54h1v1h-1zM425 54h2v1h-2zM440 54h6v1h-6zM457 54h6v1h-6zM163 55h2v1h-2zM215 55h2v1h-2zM77 56h6v1h-6zM93 56h1v1h-1zM97 56h3v1h-3zM110 56h1v1h-1zM114 56h3v1h-3zM129 56h2v1h-2zM132 56h3v1h-3zM165 56h3v1h-3zM180 56h2v1h-2zM183 56h3v1h-3zM197 56h1v1h-1zM201 56h3v1h-3zM217 56h3v1h-3zM249 56h1v1h-1zM253 56h3v1h-3zM267 56h2v1h-2zM270 56h3v1h-3zM318 56h1v1h-1zM322 56h3v1h-3zM336 56h3v1h-3zM342 56h1v1h-1zM369 56h1v1h-1zM373 56h3v1h-3zM388 56h2v1h-2zM391 56h3v1h-3zM421 56h1v1h-1zM425 56h3v1h-3zM76 57h1v1h-1zM80 57h1v1h-1zM83 57h1v1h-1zM93 57h1v1h-1zM96 57h1v1h-1zM100 57h1v1h-1zM110 57h1v1h-1zM113 57h1v1h-1zM117 57h1v1h-1zM128 57h1v1h-1zM131 57h1v1h-1zM135 57h1v1h-1zM168 57h2v1h-2zM179 57h1v1h-1zM182 57h1v1h-1zM186 57h1v1h-1zM197 57h1v1h-1zM200 57h1v1h-1zM204 57h1v1h-1zM220 57h2v1h-2zM249 57h1v1h-1zM252 57h1v1h-1zM256 57h1v1h-1zM266 57h1v1h-1zM269 57h1v1h-1zM273 57h1v1h-1zM318 57h1v1h-1zM321 57h1v1h-1zM325 57h1v1h-1zM335 57h1v1h-1zM339 57h1v1h-1zM342 57h1v1h-1zM369 57h1v1h-1zM372 57h1v1h-1zM376 57h1v1h-1zM387 57h1v1h-1zM390 57h1v1h-1zM394 57h1v1h-1zM421 57h1v1h-1zM424 57h1v1h-1zM428 57h1v1h-1zM76 58h1v1h-1zM80 58h1v1h-1zM83 58h1v1h-1zM93 58h1v1h-1zM96 58h1v1h-1zM100 58h1v1h-1zM110 58h1v1h-1zM113 58h1v1h-1zM117 58h1v1h-1zM128 58h1v1h-1zM131 58h1v1h-1zM135 58h1v1h-1zM145 58h8v1h-8zM165 58h3v1h-3zM179 58h1v1h-1zM182 58h1v1h-1zM186 58h1v1h-1zM197 58h1v1h-1zM200 58h1v1h-1zM204 58h1v1h-1zM217 58h3v1h-3zM231 58h8v1h-8zM249 58h1v1h-1zM252 58h1v1h-1zM256 58h1v1h-1zM266 58h1v1h-1zM269 58h1v1h-1zM273 58h1v1h-1zM283 58h8v1h-8zM300 58h8v1h-8zM318 58h1v1h-1zM321 58h1v1h-1zM325 58h1v1h-1zM335 58h1v1h-1zM340 58h1v1h-1zM342 58h1v1h-1zM352 58h8v1h-8zM369 58h1v1h-1zM372 58h1v1h-1zM376 58h1v1h-1zM387 58h1v1h-1zM390 58h1v1h-1zM394 58h1v1h-1zM404 58h8v1h-8zM421 58h1v1h-1zM424 58h1v1h-1zM428 58h1v1h-1zM439 58h8v1h-8zM456 58h8v1h-8zM76 59h1v1h-1zM80 59h1v1h-1zM83 59h1v1h-1zM93 59h2v1h-2zM96 59h1v1h-1zM100 59h1v1h-1zM110 59h2v1h-2zM113 59h1v1h-1zM117 59h1v1h-1zM128 59h1v1h-1zM135 59h1v1h-1zM146 59h1v1h-1zM163 59h2v1h-2zM179 59h1v1h-1zM186 59h1v1h-1zM197 59h2v1h-2zM200 59h1v1h-1zM204 59h1v1h-1zM215 59h2v1h-2zM232 59h1v1h-1zM249 59h2v1h-2zM252 59h1v1h-1zM256 59h1v1h-1zM266 59h1v1h-1zM273 59h1v1h-1zM284 59h1v1h-1zM301 59h1v1h-1zM318 59h2v1h-2zM321 59h1v1h-1zM325 59h1v1h-1zM335 59h1v1h-1zM341 59h2v1h-2zM353 59h1v1h-1zM369 59h2v1h-2zM372 59h1v1h-1zM376 59h1v1h-1zM387 59h1v1h-1zM394 59h1v1h-1zM405 59h1v1h-1zM421 59h2v1h-2zM424 59h1v1h-1zM428 59h1v1h-1zM440 59h1v1h-1zM457 59h1v1h-1zM77 60h3v1h-3zM82 60h1v1h-1zM95 60h2v1h-2zM99 60h1v1h-1zM112 60h2v1h-2zM116 60h1v1h-1zM129 60h1v1h-1zM134 60h1v1h-1zM147 60h1v1h-1zM162 60h8v1h-8zM180 60h1v1h-1zM185 60h1v1h-1zM199 60h2v1h-2zM203 60h1v1h-1zM214 60h8v1h-8zM233 60h1v1h-1zM251 60h2v1h-2zM255 60h1v1h-1zM267 60h1v1h-1zM272 60h1v1h-1zM285 60h1v1h-1zM302 60h1v1h-1zM320 60h2v1h-2zM324 60h1v1h-1zM336 60h1v1h-1zM342 60h1v1h-1zM354 60h1v1h-1zM371 60h2v1h-2zM375 60h1v1h-1zM388 60h1v1h-1zM393 60h1v1h-1zM406 60h1v1h-1zM423 60h2v1h-2zM427 60h1v1h-1zM441 60h1v1h-1zM458 60h1v1h-1z" fill="#ff0000" shape-rendering="crispEdges"/>
<path d="M474 22h6v1h-6zM491 22h3v1h-3zM497 22h1v1h-1zM509 22h2v1h-2zM512 22h3v1h-3zM526 22h6v1h-6zM543 22h3v1h-3zM549 22h1v1h-1zM473 23h1v1h-1zM480 23h1v1h-1zM490 23h1v1h-1zM494 23h1v1h-1zM497 23h1v1h-1zM508 23h1v1h-1zM511 23h1v1h-1zM515 23h1v1h-1zM525 23h1v1h-1zM532 23h1v1h-1zM542 23h1v1h-1zM546 23h1v1h-1zM549 23h1v1h-1zM473 24h1v1h-1zM480 24h1v1h-1zM490 24h1v1h-1zM495 24h1v1h-1zM497 24h1v1h-1zM508 24h1v1h-1zM511 24h1v1h-1zM515 24h1v1h-1zM525 24h1v1h-1zM532 24h1v1h-1zM542 24h1v1h-1zM547 24h1v1h-1zM549 24h1v1h-1zM473 25h1v1h-1zM480 25h1v1h-1zM490 25h1v1h-1zM496 25h2v1h-2zM508 25h1v1h-1zM511 25h1v1h-1zM515 25h1v1h-1zM525 25h1v1h-1zM532 25h1v1h-1zM542 25h1v1h-1zM548 25h2v1h-2zM474 26h6v1h-6zM491 26h1v1h-1zM497 26h1v1h-1zM509 26h2v1h-2zM512 26h3v1h-3zM526 26h6v1h-6zM543 26h1v1h-1zM549 26h1v1h-1zM474 28h6v1h-6zM495 28h1v1h-1zM526 28h3v1h-3zM532 28h1v1h-1zM543 28h1v1h-1zM546 28h3v1h-3zM473 29h1v1h-1zM480 29h1v1h-1zM490 29h8v1h-8zM525 29h1v1h-1zM529 29h1v1h-1zM532 29h1v1h-1zM542 29h1v1h-1zM545 29h1v1h-1zM549 29h1v1h-1zM473 30h1v1h-1zM480 30h1v1h-1zM491 30h1v1h-1zM495 30h1v1h-1zM508 30h8v1h-8zM525 30h1v1h-1zM530 30h1v1h-1zM532 30h1v1h-1zM542 30h1v1h-1zM545 30h1v1h-1zM549 30h1v1h-1zM473 31h1v1h-1zM480 31h1v1h-1zM492 31h2v1h-2zM495 31h1v1h-1zM509 31h1v1h-1zM525 31h1v1h-1zM531 31h2v1h-2zM542 31h1v1h-1zM545 31h1v1h-1zM549 31h1v1h-1zM474 32h6v1h-6zM494 32h2v1h-2zM510 32h1v1h-1zM526 32h1v1h-1zM532 32h1v1h-1zM543 32h6v1h-6zM478 34h1v1h-1zM491 34h1v1h-1zM494 34h3v1h-3zM526 34h3v1h-3zM532 34h1v1h-1zM543 34h3v1h-3zM549 34h1v1h-1zM473 35h8v1h-8zM490 35h1v1h-1zM493 35h1v1h-1zM497 35h1v1h-1zM525 35h1v1h-1zM529 35h1v1h-1zM532 35h1v1h-1zM542 35h1v1h-1zM546 35h1v1h-1zM549 35h1v1h-1zM474 36h1v1h-1zM478 36h1v1h-1zM490 36h1v1h-1zM493 36h1v1h-1zM497 36h1v1h-1zM508 36h8v1h-8zM525 36h1v1h-1zM530 36h1v1h-1zM532 36h1v1h-1zM542 36h1v1h-1zM547 36h1v1h-1zM549 36h1v1h-1zM475 37h2v1h-2zM478 37h1v1h-1zM490 37h1v1h-1zM493 37h1v1h-1zM497 37h1v1h-1zM509 37h1v1h-1zM525 37h1v1h-1zM531 37h2v1h-2zM542 37h1v1h-1zM548 37h2v1h-2zM477 38h2v1h-2zM491 38h6v1h-6zM510 38h1v1h-1zM526 38h1v1h-1zM532 38h1v1h-1zM543 38h1v1h-1zM549 38h1v1h-1zM478 40h1v1h-1zM495 40h1v1h-1zM513 40h1v1h-1zM530 40h1v1h-1zM547 40h1v1h-1zM478 41h1v1h-1zM495 41h1v1h-1zM513 41h1v1h-1zM530 41h1v1h-1zM547 41h1v1h-1zM478 42h1v1h-1zM495 42h1v1h-1zM513 42h1v1h-1zM530 42h1v1h-1zM547 42h1v1h-1zM473 44h1v1h-1zM490 44h1v1h-1zM508 44h1v1h-1zM525 44h1v1h-1zM542 44h1v1h-1zM473 45h3v1h-3zM490 45h3v1h-3zM508 45h3v1h-3zM525 45h3v1h-3zM542 45h3v1h-3zM473 46h1v1h-1zM476 46h2v1h-2zM490 46h1v1h-1zM493 46h2v1h-2zM508 46h1v1h-1zM511 46h2v1h-2zM525 46h1v1h-1zM528 46h2v1h-2zM542 46h1v1h-1zM545 46h2v1h-2zM473 47h1v1h-1zM478 47h3v1h-3zM490 47h1v1h-1zM495 47h3v1h-3zM508 47h1v1h-1zM513 47h3v1h-3zM525 47h1v1h-1zM530 47h3v1h-3zM542 47h1v1h-1zM547 47h3v1h-3zM473 48h1v1h-1zM490 48h1v1h-1zM508 48h1v1h-1zM525 48h1v1h-1zM542 48h1v1h-1zM474 50h6v1h-6zM491 50h6v1h-6zM509 50h6v1h-6zM526 50h6v1h-6zM543 50h6v1h-6zM473 51h1v1h-1zM480 51h1v1h-1zM490 51h1v1h-1zM497 51h1v1h-1zM508 51h1v1h-1zM515 51h1v1h-1zM525 51h1v1h-1zM532 51h1v1h-1zM542 51h1v1h-1zM549 51h1v1h-1zM473 52h1v1h-1zM480 52h1v1h-1zM490 52h1v1h-1zM497 52h1v1h-1zM508 52h1v1h-1zM515 52h1v1h-1zM525 52h1v1h-1zM532 52h1v1h-1zM542 52h1v1h-1zM549 52h1v1h-1zM473 53h1v1h-1zM480 53h1v1h-1zM490 53h1v1h-1zM497 53h1v1h-1zM508 53h1v1h-1zM515 53h1v1h-1zM525 53h1v1h-1zM532 53h1v1h-1zM542 53h1v1h-1zM549 53h1v1h-1zM474 54h6v1h-6zM491 54h6v1h-6zM509 54h6v1h-6zM526 54h6v1h-6zM543 54h6v1h-6zM473 58h8v1h-8zM490 58h8v1h-8zM508 58h8v1h-8zM525 58h8v1h-8zM542 58h8v1h-8zM474 59h1v1h-1zM491 59h1v1h-1zM509 59h1v1h-1zM526 59h1v1h-1zM543 59h1v1h-1zM475 60h1v1h-1zM492 60h1v1h-1zM510 60h1v1h-1zM527 60h1v1h-1zM544 60h1v1h-1z" fill="#006400" shape-rendering="crispEdges"/>
</svg></body></html>
